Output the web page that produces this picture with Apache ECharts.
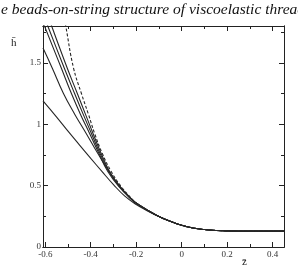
<!DOCTYPE html>
<html>
<head>
<meta charset="utf-8">
<script src="https://cdn.jsdelivr.net/npm/echarts@6/dist/echarts.min.js"></script>
<style>
  html, body { margin: 0; padding: 0; background: #fff; }
  #chart { width: 298px; height: 270px; }
</style>
</head>
<body>
<div id="chart"></div>
<script>
// profiles h(z)
const curve1 = [[-0.61, 1.19], [-0.55, 1.058], [-0.5, 0.943], [-0.45, 0.832], [-0.4, 0.722], [-0.35, 0.614],
  [-0.3, 0.508], [-0.25, 0.414], [-0.2, 0.346], [-0.15, 0.294]];
const curve2 = [[-0.61, 1.62], [-0.57, 1.46], [-0.52, 1.25], [-0.47, 1.08], [-0.42, 0.925], [-0.37, 0.765],
  [-0.32, 0.615], [-0.27, 0.49], [-0.225, 0.395], [-0.2, 0.355], [-0.15, 0.298]];
const curve3 = [[-0.61, 1.83], [-0.53, 1.46], [-0.485, 1.25], [-0.445, 1.08], [-0.405, 0.925], [-0.365, 0.765],
  [-0.325, 0.615], [-0.275, 0.49], [-0.222, 0.39], [-0.2, 0.357], [-0.15, 0.3]];
const curve4 = [[-0.61, 1.9], [-0.589, 1.8], [-0.517, 1.46], [-0.471, 1.25], [-0.433, 1.08], [-0.397, 0.925],
  [-0.36, 0.765], [-0.32, 0.615], [-0.272, 0.49], [-0.221, 0.39], [-0.2, 0.358], [-0.15, 0.3]];
const curve5 = [[-0.59, 1.9], [-0.572, 1.8], [-0.504, 1.46], [-0.459, 1.25], [-0.423, 1.08], [-0.39, 0.925],
  [-0.355, 0.765], [-0.317, 0.615], [-0.27, 0.49], [-0.22, 0.39], [-0.2, 0.358], [-0.15, 0.3]];
const dashed = [[-0.516, 1.86], [-0.51, 1.8], [-0.476, 1.46], [-0.441, 1.25], [-0.41, 1.08], [-0.383, 0.925],
  [-0.35, 0.765], [-0.31, 0.615], [-0.265, 0.49], [-0.218, 0.39], [-0.2, 0.358], [-0.15, 0.3]];
// all profiles coincide here
const tail = [[-0.1, 0.248], [-0.05, 0.209], [0, 0.177], [0.05, 0.155], [0.1, 0.142], [0.15, 0.135],
  [0.2, 0.131], [0.3, 0.129], [0.45, 0.129]];

const xMajor = [-0.6, -0.4, -0.2, 0, 0.2, 0.4];
const xMinor = [-0.5, -0.3, -0.1, 0.1, 0.3];
const yMajor = [0, 0.5, 1, 1.5];
const yMinor = [0.25, 0.75, 1.25, 1.75];
const title = 'e beads-on-string structure of viscoelastic threads';

const chart = echarts.init(document.getElementById('chart'), null, {renderer: 'canvas'});

const ink = '#222';
const labelFont = {color: '#333', fontFamily: 'Liberation Serif', fontSize: 9};

function xAxis(pos, ticks, len, labels) {
  return {
    type: 'value', position: pos, min: -0.61, max: 0.45,
    axisLine: {show: true, onZero: false, lineStyle: {color: ink, width: 1}},
    axisTick: {show: true, inside: true, length: len, customValues: ticks, lineStyle: {color: ink}},
    axisLabel: labels ? Object.assign({show: true, margin: 3, customValues: ticks}, labelFont) : {show: false},
    splitLine: {show: false}
  };
}

function yAxis(pos, ticks, len, labels) {
  return {
    type: 'value', position: pos, min: 0, max: 1.8,
    axisLine: {show: true, onZero: false, lineStyle: {color: ink, width: 1}},
    axisTick: {show: true, inside: true, length: len, customValues: ticks, lineStyle: {color: ink}},
    axisLabel: labels ? Object.assign({show: true, margin: 2, customValues: ticks}, labelFont) : {show: false},
    splitLine: {show: false}
  };
}

function line(data, type) {
  return {
    type: 'line', xAxisIndex: 0, yAxisIndex: 0,
    data: data.concat(tail), smooth: 0.45, symbol: 'none', clip: true,
    lineStyle: {color: '#262626', width: 1.1, type: type}
  };
}

chart.setOption({
  animation: false,
  backgroundColor: '#fff',
  grid: {left: 43, right: 14, top: 26, bottom: 23, containLabel: false},
  xAxis: [
    xAxis('bottom', xMajor, 5, true),
    xAxis('bottom', xMinor, 3, false),
    xAxis('top', xMajor, 5, false),
    xAxis('top', xMinor, 3, false)
  ],
  yAxis: [
    yAxis('left', yMajor, 5, true),
    yAxis('left', yMinor, 3, false),
    yAxis('right', yMajor, 5, false),
    yAxis('right', yMinor, 3, false)
  ],
  graphic: [
    {type: 'text', left: 1, top: 2,
      style: {text: title, font: 'italic 15.5px "Liberation Serif"', fill: '#111'}},
    {type: 'text', left: 11, top: 38,
      style: {text: 'h\u0304', font: '11px "Liberation Serif"', fill: '#222'}},
    {type: 'text', left: 242, top: 257,
      style: {text: 'z\u0304', font: '11px "Liberation Serif"', fill: '#222'}}
  ],
  series: [
    line(curve1, 'solid'),
    line(curve2, 'solid'),
    line(curve3, 'solid'),
    line(curve4, 'solid'),
    line(curve5, 'solid'),
    line(dashed, [3, 2])
  ]
});
</script>
</body>
</html>
